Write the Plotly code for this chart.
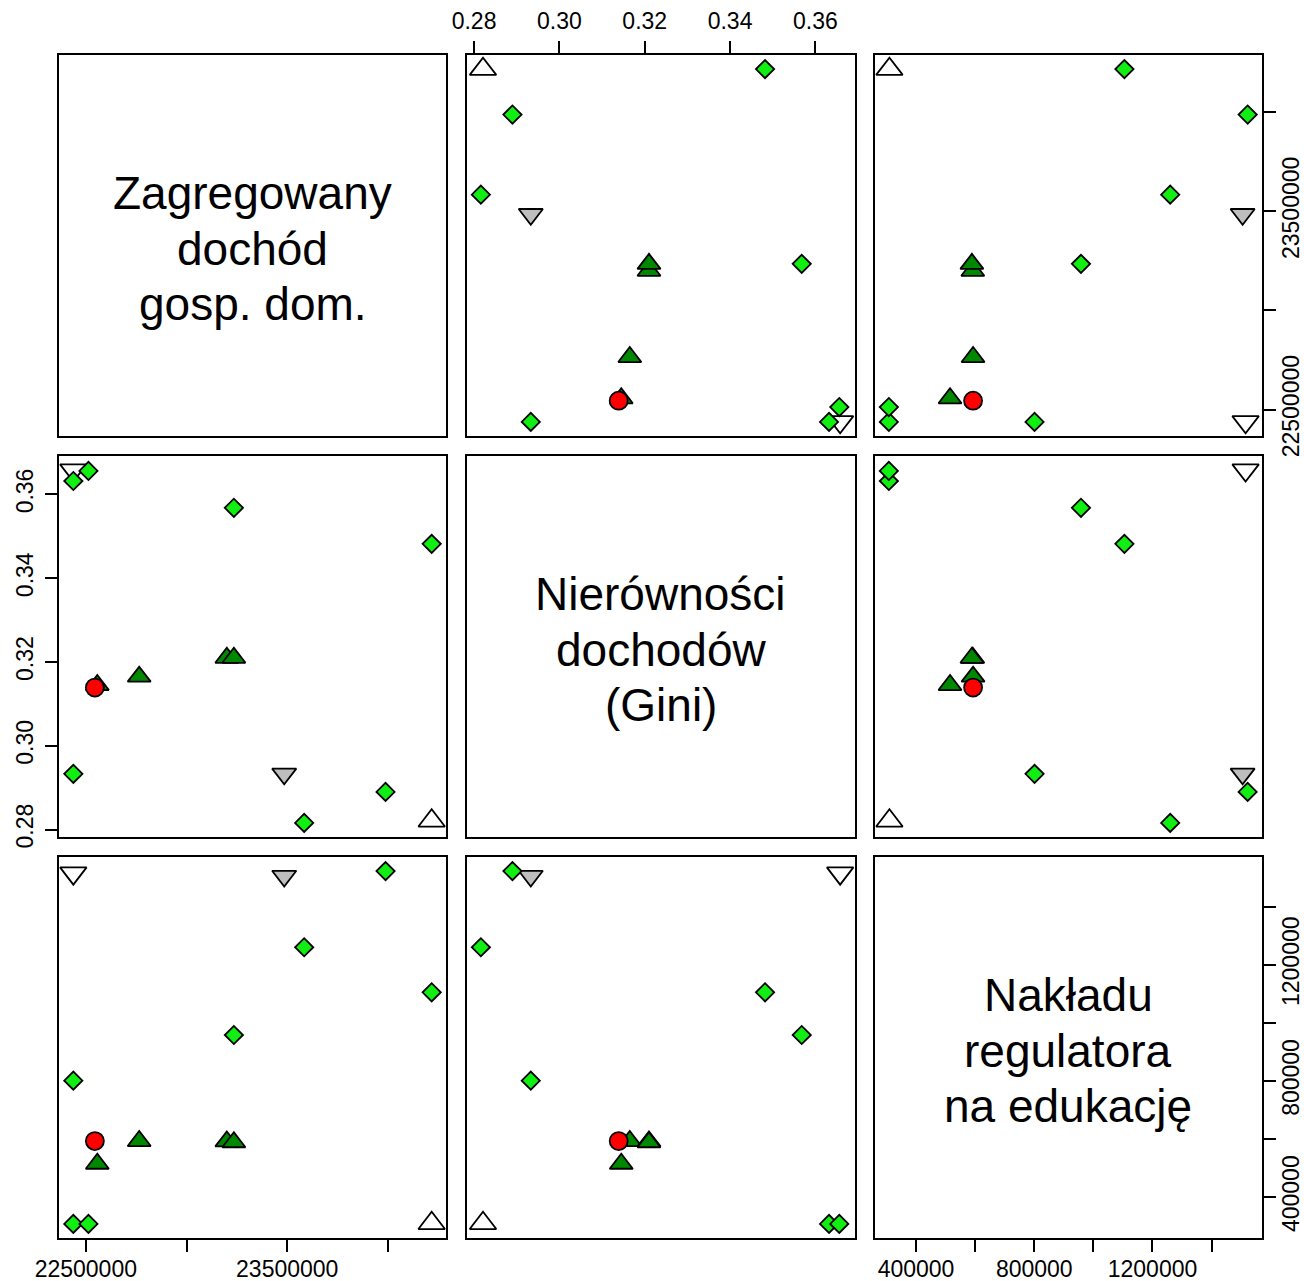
import plotly.graph_objects as go

# ---------------- data ----------------
var_labels = [
    ["Zagregowany", "dochód", "gosp. dom."],
    ["Nierówności", "dochodów", "(Gini)"],
    ["Nakładu", "regulatora", "na edukację"],
]

groups = ["white_up", "white_down", "grey_down",
          "diamond", "diamond", "diamond", "diamond", "diamond", "diamond", "diamond",
          "tri", "tri", "tri", "tri", "red"]
income = [24217000, 22438000, 23485000,
          23988000, 23584000, 24217000, 23235000, 22438000, 22438000, 22513000,
          22557000, 22765000, 23200000, 23235000, 22545000]
gini = [0.2821, 0.3658, 0.2933,
        0.2890, 0.2816, 0.3482, 0.3568, 0.2933, 0.3632, 0.3656,
        0.3145, 0.3165, 0.3210, 0.3210, 0.3139]
edu = [310000, 1515000, 1505000,
       1522000, 1260000, 1105000, 958000, 801000, 308000, 308000,
       515000, 593000, 592000, 589000, 593000]

income_ticks = [22500000, 23000000, 23500000, 24000000]
income_ticktext = ["22500000", "", "23500000", ""]
gini_ticks = [0.28, 0.30, 0.32, 0.34, 0.36]
gini_ticktext = ["0.28", "0.30", "0.32", "0.34", "0.36"]
edu_ticks = [400000, 600000, 800000, 1000000, 1200000, 1400000]
edu_ticktext = ["400000", "", "800000", "", "1200000", ""]

# ---------------- styles ----------------
style = {
    "white_up":   dict(symbol="triangle-up", color="white", size=23),
    "white_down": dict(symbol="triangle-down", color="white", size=23),
    "grey_down":  dict(symbol="triangle-down", color="#BEBEBE", size=21),
    "diamond":    dict(symbol="diamond", color="#11EE11", size=14),
    "tri":        dict(symbol="triangle-up", color="#008800", size=20),
    "red":        dict(symbol="circle", color="#FF0000", size=18),
}

W, H = 1304, 1281
cols_px = [(59, 446), (466.5, 854.5), (874.5, 1262)]
rows_px = [(55, 436), (456, 837), (857, 1238)]
FONT = "Liberation Sans, Arial, sans-serif"

variables = [income, gini, edu]
ticks = [(income_ticks, income_ticktext), (gini_ticks, gini_ticktext), (edu_ticks, edu_ticktext)]


def rng(v):
    lo, hi = min(v), max(v)
    s = hi - lo
    return [lo - 0.04 * s, hi + 0.04 * s]


ranges = [rng(v) for v in variables]

fig = go.Figure()
layout = {}
annotations = []

for r in range(3):
    for c in range(3):
        n = r * 3 + c + 1
        xk = "xaxis" if n == 1 else f"xaxis{n}"
        yk = "yaxis" if n == 1 else f"yaxis{n}"
        xs = "x" if n == 1 else f"x{n}"
        ys = "y" if n == 1 else f"y{n}"
        x0, x1 = cols_px[c]
        y0, y1 = rows_px[r]
        base = dict(showline=True, mirror=True, linecolor="black", linewidth=1.5,
                    showgrid=False, zeroline=False, ticks="", showticklabels=False,
                    ticklen=12, tickwidth=1.5, tickcolor="black", automargin=False,
                    tickfont=dict(family=FONT, size=23, color="black"),
                    fixedrange=True)
        xa = dict(base, domain=[x0 / W, x1 / W], anchor=ys, range=ranges[c],
                  tickvals=ticks[c][0], ticktext=ticks[c][1])
        ya = dict(base, domain=[1 - y1 / H, 1 - y0 / H], anchor=xs, range=ranges[r],
                  tickvals=ticks[r][0], ticktext=ticks[r][1], tickangle=-90)
        if r == 0 and c == 1:
            xa.update(side="top", ticks="outside", showticklabels=True, ticklabelstandoff=3)
        if r == 2 and c in (0, 2):
            xa.update(side="bottom", ticks="outside", showticklabels=True, ticklabelstandoff=-2)
        if r == 1 and c == 0:
            ya.update(side="left", ticks="outside", showticklabels=True, ticklabelstandoff=3)
        if c == 2 and r in (0, 2):
            ya.update(side="right", ticks="outside", showticklabels=True, ticklabelstandoff=-4)
        layout[xk] = xa
        layout[yk] = ya

        if r == c:
            fig.add_trace(go.Scatter(x=[], y=[], xaxis=xs, yaxis=ys, showlegend=False))
            cx = (x0 + x1) / 2
            cy = (y0 + y1) / 2 + 3
            for i, line in enumerate(var_labels[r]):
                annotations.append(dict(
                    text=line, x=cx / W, y=1 - (cy + (i - 1) * 55.5) / H,
                    xref="paper", yref="paper", xanchor="center", yanchor="middle",
                    showarrow=False, font=dict(family=FONT, size=46, color="black")))
        else:
            fig.add_trace(go.Scatter(
                x=variables[c], y=variables[r], xaxis=xs, yaxis=ys, mode="markers",
                showlegend=False, cliponaxis=True,
                marker=dict(symbol=[style[g]["symbol"] for g in groups],
                            color=[style[g]["color"] for g in groups],
                            size=[style[g]["size"] for g in groups],
                            opacity=1,
                            line=dict(color="black", width=1.8))))

fig.update_layout(**layout)
fig.update_layout(width=W, height=H, margin=dict(l=0, r=0, t=0, b=0, pad=0, autoexpand=False),
                  paper_bgcolor="white", plot_bgcolor="white",
                  annotations=annotations, showlegend=False)

fig.write_html("out.html", config={"responsive": False, "displayModeBar": False},
               post_script="document.body.style.margin='0';document.body.style.overflow='hidden';")
